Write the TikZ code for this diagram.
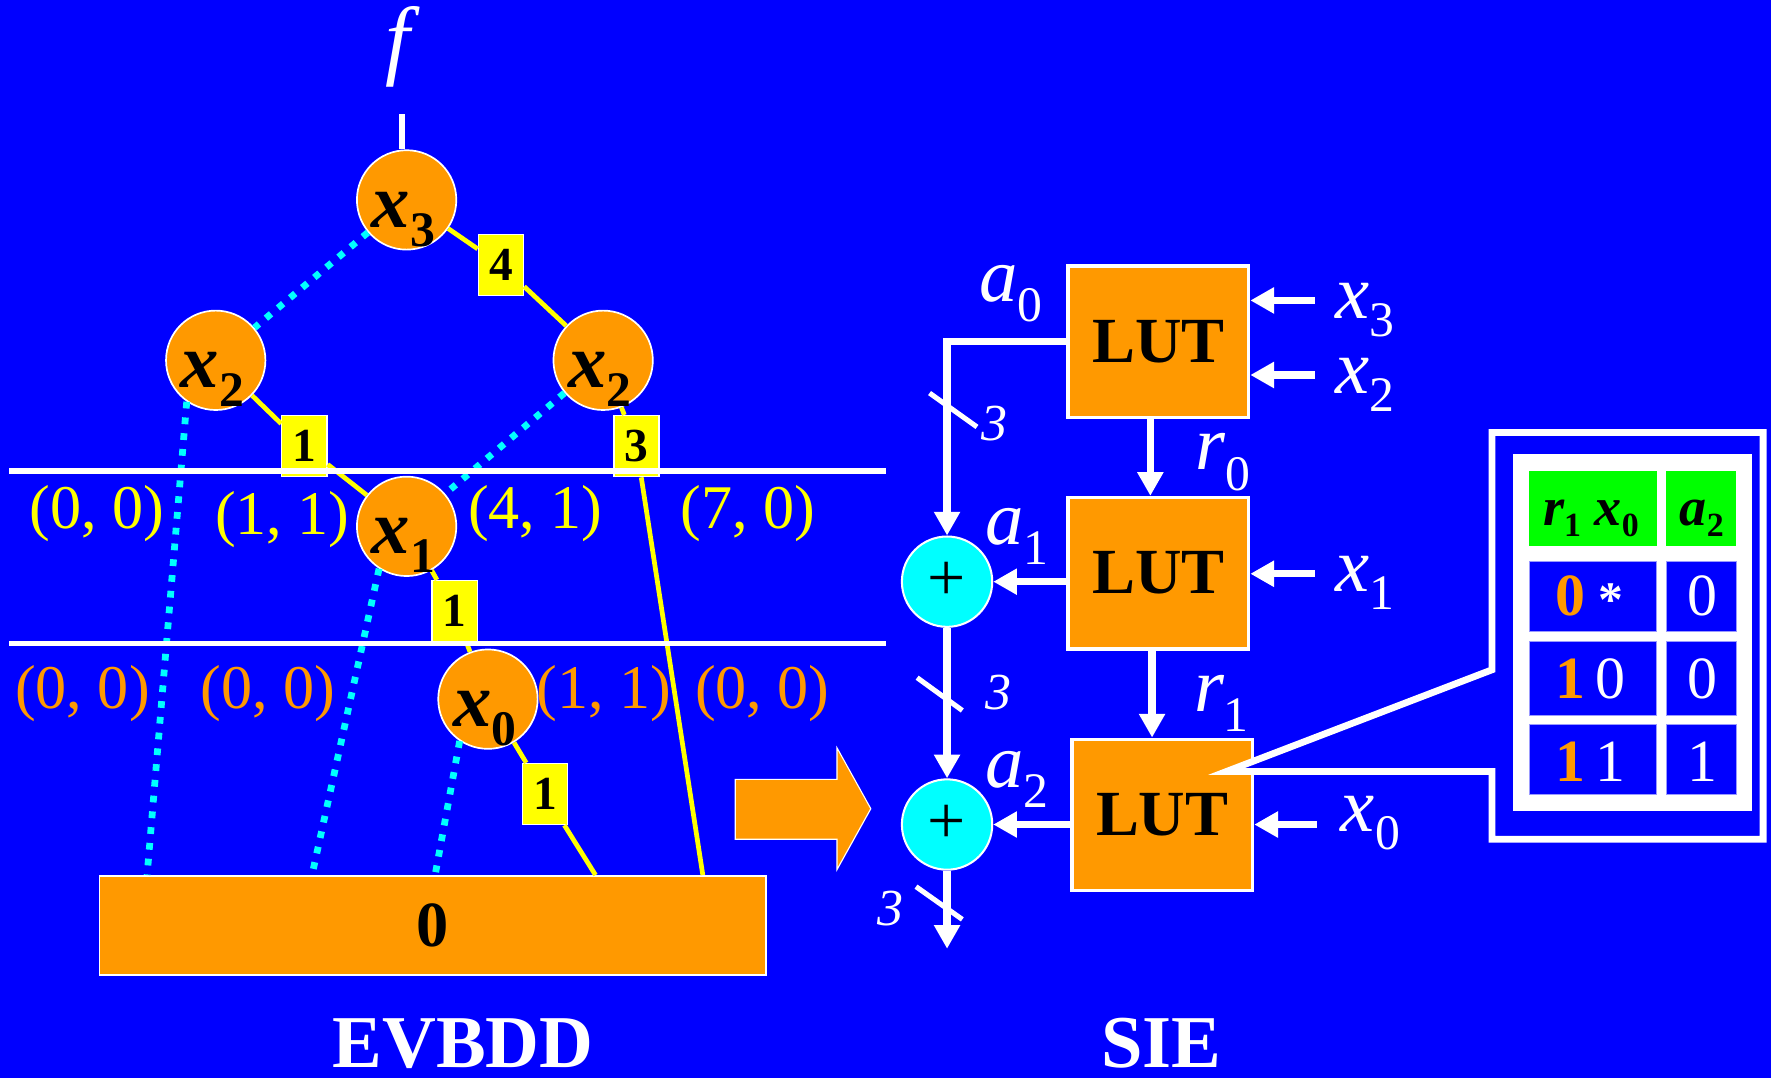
\documentclass[tikz,border=0pt]{standalone}
\usepackage{fontspec}
\setmainfont{Liberation Serif}
\usetikzlibrary{arrows.meta,calc}
\definecolor{bg}{HTML}{0000FF}
\definecolor{orng}{HTML}{FF9900}
\definecolor{yel}{HTML}{FFFF00}
\definecolor{cyn}{HTML}{00FFFF}
\definecolor{grn}{HTML}{00FF00}
\definecolor{lav}{HTML}{9999FF}
\newcommand\fs[1]{\fontsize{#1}{#1}\selectfont}
\newcommand\sbs[3]{\raisebox{-#1pt}{\fs{#2}#3}}
\begin{document}
\begin{tikzpicture}[x=1pt,y=-1pt,
  bddnode/.style={circle, fill=orng, draw=white, line width=1.5pt, minimum size=88pt, inner sep=0pt},
  nlab/.style={anchor=base west, inner sep=0pt, font=\fs{68}\bfseries\itshape},
  ebox/.style={fill=yel, draw=white, line width=1.2pt, minimum width=40pt, minimum height=54pt, inner sep=0pt, font=\fs{42}\bfseries},
  oneedge/.style={yel, line width=4.2pt},
  zeroedge/.style={cyn, line width=6pt, dash pattern=on 6pt off 8pt},
  clab/.style={font=\fs{55}, inner sep=0pt, anchor=base},
  lut/.style={fill=orng, draw=white, line width=3pt, font=\fs{57}\bfseries, inner sep=0pt, minimum width=160pt, minimum height=134pt},
  adder/.style={circle, fill=cyn, draw=white, line width=1.8pt, minimum size=80pt, inner sep=0pt, font=\fs{60}},
  wire/.style={white, line width=6.5pt},
  arr/.style={wire, -{Triangle[length=21pt,width=22pt]}},
  wlab/.style={white, anchor=base west, inner sep=0pt, font=\fs{68}\itshape},
  nlab3/.style={white, anchor=base west, inner sep=0pt, font=\fs{46}\itshape},
  slash/.style={white, line width=4.5pt},
  cell/.style={anchor=base, inner sep=0pt, font=\fs{53}}
]
\fill[bg] (0,0) rectangle (1568,954);
\useasboundingbox (0,0) rectangle (1568,954);

% ===== EVBDD =====
\node[bddnode] (x3) at (360,177) {};
\node[bddnode] (x2l) at (191,319) {};
\node[bddnode] (x2r) at (534,319) {};
\node[bddnode] (x1) at (360,466) {};
\node[bddnode] (x0) at (432,619) {};
\node[fill=orng, draw=white, line width=1.5pt, minimum width=590pt, minimum height=88pt, inner sep=0pt, font=\fs{57}\bfseries] (t) at (383,819.5) {0};

\node[ebox] (e4) at (443.5,234.5) {4};
\node[ebox] (e1a) at (269.5,395) {1};
\node[ebox] (e3) at (563.5,395) {3};
\node[ebox] (e1b) at (402.5,541) {1};
\node[ebox] (e1c) at (482.5,703) {1};

\draw[zeroedge] (x3) -- (x2l);
\draw[zeroedge] (x2l.235) -- ([xshift=43pt]t.north west);
\draw[zeroedge] (x2r) -- (x1);
\draw[zeroedge] (x1.237) -- ([xshift=189pt]t.north west);
\draw[zeroedge] (x0.236) -- ([xshift=298pt]t.north west);
\draw[oneedge] (x3) -- (e4) -- (x2r);
\draw[oneedge] (x2l) -- (e1a) -- (x1);
\draw[oneedge] (x2r) -- (e3) -- ([xshift=535pt]t.north west);
\draw[oneedge] (x1) -- (e1b) -- (x0);
\draw[oneedge] (x0) -- (e1c) -- ([xshift=440pt]t.north west);

\draw[white, line width=4.5pt] (8,417) -- (784,417);
\draw[white, line width=4.5pt] (8,569.5) -- (784,569.5);

\node[nlab] at ([xshift=-31pt,yshift=-24pt]x3.center) {x\sbs{17}{44}{\upshape 3}};
\node[nlab] at ([xshift=-31pt,yshift=-24pt]x2l.center) {x\sbs{17}{44}{\upshape 2}};
\node[nlab] at ([xshift=-31pt,yshift=-24pt]x2r.center) {x\sbs{17}{44}{\upshape 2}};
\node[nlab] at ([xshift=-31pt,yshift=-24pt]x1.center) {x\sbs{17}{44}{\upshape 1}};
\node[nlab] at ([xshift=-31pt,yshift=-24pt]x0.center) {x\sbs{17}{44}{\upshape 0}};

\node[white, font=\fs{78}\itshape, anchor=base, inner sep=0pt] (flab) at (352,61) {f};
\coordinate (fstub) at (356,101);
\draw[white, line width=5pt] (fstub) -- (fstub |- x3.north);

\node[clab, yel] (c1) at (86,468) {(0, 0)};
\node[clab, yel] (c2) at (250,473) {(1, 1)};
\node[clab, yel] (c3) at (474,468) {(4, 1)};
\node[clab, yel] (c4) at (662,468) {(7, 0)};
\node[clab, orng] (d1) at (73,627) {(0, 0)};
\node[clab, orng] (d2) at (237,627) {(0, 0)};
\node[clab, orng] (d3) at (535,627) {(1, 1)};
\node[clab, orng] (d4) at (675,627) {(0, 0)};

\filldraw[fill=orng, draw=white, line width=1pt] (651,690) -- (741,690) -- (741,662) -- (771,716) -- (741,770) -- (741,743) -- (651,743) -- cycle;

\node[white, font=\fs{66}\bfseries, anchor=base, inner sep=0pt] (evbdd) at (410,945) {EVBDD};
\node[white, font=\fs{66}\bfseries, anchor=base, inner sep=0pt] (sie) at (1028,945) {SIE};

% ===== SIE =====
\node[lut] (lut1) at (1025.5,302.5) {LUT};
\node[lut] (lut2) at (1025.5,507.5) {LUT};
\node[lut] (lut3) at (1029,721.5) {LUT};
\node[adder] (add1) at (838.5,515) {\raisebox{-6pt}{+}};
\node[adder] (add2) at (838.5,730) {\raisebox{-6pt}{+}};

\draw[arr] (lut1.west) -| (add1.north);
\draw[arr] ([xshift=-7pt]lut1.south) -- ([xshift=-7pt]lut2.north);
\draw[arr] ([xshift=-5.5pt]lut2.south) -- ([xshift=-5.5pt]lut2.south |- lut3.north);
\draw[arr] (lut2.west |- add1) -- (add1);
\draw[arr] (lut3.west |- add2) -- (add2);
\draw[arr] (add1) -- (add2);
\coordinate (out) at (838.5,840);
\draw[arr] (add2) -- (out);

\coordinate (i3) at (1164,266);
\coordinate (i2) at (1164,332);
\coordinate (i1) at (1164,508);
\coordinate (i0) at (1166,730);
\draw[arr] (i3) -- (i3 -| lut1.east);
\draw[arr] (i2) -- (i2 -| lut1.east);
\draw[arr] (i1) -- (i1 -| lut2.east);
\draw[arr] (i0) -- (i0 -| lut3.east);

\draw[slash] (823,348) -- (865,378);
\draw[slash] (812,600) -- (852,629);
\draw[slash] (811,785) -- (852,814);
\node[nlab3] (w3a) at (869,390) {3};
\node[nlab3] (w3b) at (872,628) {3};
\node[nlab3] (w3c) at (777,819) {3};

\node[wlab] (la0) at (867,267) {a\sbs{18}{44}{\upshape 0}};
\node[wlab] (la1) at (872,482) {a\sbs{18}{44}{\upshape 1}};
\node[wlab] (la2) at (872,697) {a\sbs{18}{44}{\upshape 2}};
\node[wlab] (lr0) at (1058,416) {r\sbs{18}{44}{\upshape 0}};
\node[wlab] (lr1) at (1057,630) {r\sbs{18}{44}{\upshape 1}};
\node[wlab] (lx3) at (1182,282) {x\sbs{16}{44}{\upshape 3}};
\node[wlab] (lx2) at (1182,348) {x\sbs{16}{44}{\upshape 2}};
\node[wlab] (lx1) at (1182,524) {x\sbs{16}{44}{\upshape 1}};
\node[wlab] (lx0) at (1187,736) {x\sbs{16}{44}{\upshape 0}};

% callout
\draw[white, line width=6pt, fill=bg, line join=miter] (1321,383) -- (1561,383) -- (1561,743) -- (1321,743) -- (1321,683) -- (1086,683) -- (1321,593) -- cycle;
\fill[white] (1339.5,402) rectangle (1551,718);
\fill[grn] (1354,417) rectangle (1467,483);
\fill[grn] (1475,417) rectangle (1537,483);
\foreach \ya/\yb in {497.5/559.5, 567.5/633, 641/703}{
  \filldraw[fill=bg, draw=lav, line width=0.8pt] (1354,\ya) rectangle (1467,\yb);
  \filldraw[fill=bg, draw=lav, line width=0.8pt] (1475,\ya) rectangle (1537,\yb);
}
\node[anchor=base west, inner sep=0pt, font=\fs{48}\bfseries\itshape] (h1) at (1366,465) {r\sbs{10}{30}{\upshape 1} x\sbs{10}{30}{\upshape 0}};
\node[anchor=base west, inner sep=0pt, font=\fs{48}\bfseries\itshape] (h2) at (1487,465) {a\sbs{10}{30}{\upshape 2}};

\node[cell, orng, font=\fs{53}\bfseries] (r1a) at (1390,544.5) {0};
\node[cell, white, font=\fs{44}\bfseries] (r1b) at (1426,546) {*};
\node[cell, white] (r1c) at (1507,544.5) {0};
\node[cell, orng, font=\fs{53}\bfseries] (r2a) at (1390,618) {1};
\node[cell, white] (r2b) at (1426,618) {0};
\node[cell, white] (r2c) at (1507,618) {0};
\node[cell, orng, font=\fs{53}\bfseries] (r3a) at (1390,691.5) {1};
\node[cell, white] (r3b) at (1426,691.5) {1};
\node[cell, white] (r3c) at (1507,691.5) {1};
\end{tikzpicture}
\end{document}
